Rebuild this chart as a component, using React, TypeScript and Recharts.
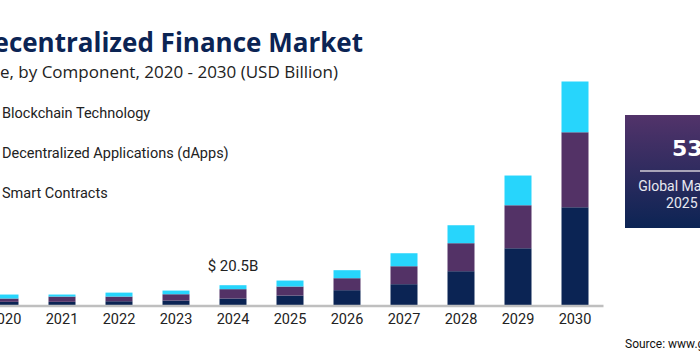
import { BarChart, Bar, XAxis, YAxis, LabelList } from 'recharts';

const YEARS = ['2020', '2021', '2022', '2023', '2024', '2025', '2026', '2027', '2028', '2029', '2030'];
const BLOCKCHAIN = [4.1, 4.1, 4.7, 5.4, 7.4, 10.3, 15.6, 21.5, 34.3, 56.9, 97.3];
const DAPPS = [3.3, 5.2, 4.6, 6.2, 9.2, 8.9, 11.8, 17.7, 27.6, 42.4, 73.9];
const SMART = [3.9, 2.0, 3.9, 3.6, 3.9, 5.9, 7.9, 12.8, 17.7, 29.3, 50.0];
const SERIES_NAMES = ['Blockchain Technology', 'Decentralized Applications (dApps)', 'Smart Contracts'];
const COLORS = ['#0b2454', '#533266', '#27d5fc'];
const LABEL_YEAR = '2024';

const data = YEARS.map((year, i) => ({
    year,
    blockchain: BLOCKCHAIN[i],
    dapps: DAPPS[i],
    smart: SMART[i],
    total: BLOCKCHAIN[i] + DAPPS[i] + SMART[i],
}));

const TotalLabel = (props: any) => {
    const { x, y, width, index } = props;
    if (data[index].year !== LABEL_YEAR) return null;
    return (
        <text x={x + width / 2} y={y - 14} textAnchor="middle" fill="#222" fontSize={15} fontFamily="Roboto">
            {`$ ${data[index].total.toFixed(1)}B`}
        </text>
    );
};

export default function App() {
    return (
        <div style={{ position: 'absolute', left: 0, top: 0, width: 700, height: 361, overflow: 'hidden', background: '#fff', fontFamily: 'Roboto' }}>
            {/* title, clipped at the left edge like the source */}
            <div style={{ position: 'absolute', right: 337, top: 26, whiteSpace: 'nowrap', fontFamily: 'Open Sans', fontWeight: 700, fontSize: 26, color: '#0b2454', lineHeight: '32px' }}>
                Decentralized Finance Market
            </div>
            <div style={{ position: 'absolute', right: 362, top: 60, whiteSpace: 'nowrap', fontFamily: 'Open Sans', fontSize: 17, color: '#222', lineHeight: '24px' }}>
                Size, by Component, 2020 - 2030 (USD Billion)
            </div>

            {/* legend, swatches sit off-canvas */}
            {SERIES_NAMES.map((name, i) => (
                <div key={name} style={{ position: 'absolute', left: -22, top: 104 + i * 40, display: 'flex', alignItems: 'center', whiteSpace: 'nowrap', fontSize: 14.5, color: '#222', lineHeight: '20px' }}>
                    <span style={{ width: 14, height: 14, background: COLORS[i], marginRight: 10 }} />
                    {name}
                </div>
            ))}

            <div style={{ position: 'absolute', left: -40, top: 0 }}>
                <BarChart width={660} height={361} data={data} margin={{ top: 62.5, right: 16.5, left: 16.5, bottom: 25 }} barSize={27}>
                    <XAxis
                        dataKey="year"
                        interval={0}
                        tickLine={false}
                        axisLine={{ stroke: '#bfbfbf', strokeWidth: 2.5 }}
                        tick={{ fill: '#222', fontSize: 14.5, fontFamily: 'Roboto' }}
                        height={30}
                    />
                    <YAxis hide domain={[0, 240]} />
                    <Bar dataKey="blockchain" stackId="a" fill={COLORS[0]} isAnimationActive={false} />
                    <Bar dataKey="dapps" stackId="a" fill={COLORS[1]} isAnimationActive={false} />
                    <Bar dataKey="smart" stackId="a" fill={COLORS[2]} isAnimationActive={false}>
                        <LabelList dataKey="total" content={TotalLabel} />
                    </Bar>
                </BarChart>
            </div>

            {/* highlight box */}
            <div style={{ position: 'absolute', left: 625, top: 115, width: 156, height: 113, background: 'linear-gradient(#52336a, #0c2454)' }}>
                <div style={{ position: 'absolute', left: 47, top: 20, whiteSpace: 'nowrap', color: '#fff', fontFamily: 'DejaVu Sans', fontWeight: 700, fontSize: 22, lineHeight: '28px' }}>
                    53.7%
                </div>
                <div style={{ position: 'absolute', left: 15, width: 126, top: 55, height: 2, background: '#a9a4b8' }} />
                <div style={{ position: 'absolute', left: 0, width: 156, top: 63, textAlign: 'center', color: '#e8e8f0', fontSize: 14, lineHeight: '17px' }}>
                    Global Market CAGR,<br />2025 - 2030
                </div>
            </div>

            <div style={{ position: 'absolute', left: 625, top: 337, whiteSpace: 'nowrap', fontSize: 12, color: '#111' }}>
                Source: www.grandviewresearch.com
            </div>
        </div>
    );
}
